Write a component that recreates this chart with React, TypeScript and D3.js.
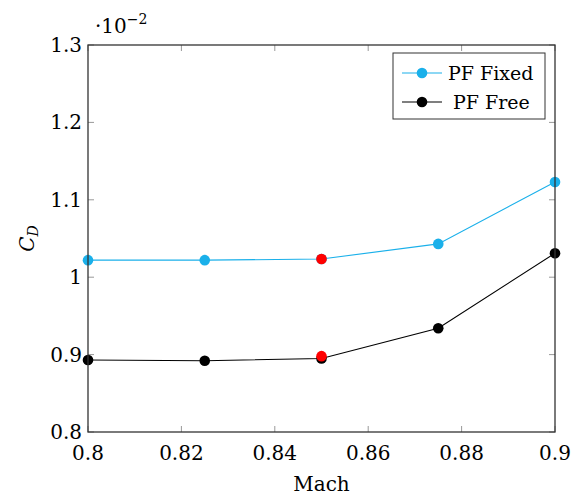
import React from "react";
import * as d3 from "d3";

const mach = [0.8, 0.825, 0.85, 0.875, 0.9];
const pfFixed = [1.022, 1.022, 1.0235, 1.043, 1.123];
const pfFree = [0.893, 0.892, 0.895, 0.934, 1.031];
const highlightMach = [0.85, 0.85];
const highlightCd = [1.0235, 0.898];
const xTicks = [0.8, 0.82, 0.84, 0.86, 0.88, 0.9];
const yTicks = [0.8, 0.9, 1.0, 1.1, 1.2, 1.3];

const W = 571;
const H = 495;
const left = 88;
const right = 555;
const top = 45;
const bottom = 432;
const FONT = "DejaVu Serif";
const BLUE = "#1ab0ea";
const FS = 20;

export default function App() {
  const x = d3.scaleLinear().domain([0.8, 0.9]).range([left, right]);
  const y = d3.scaleLinear().domain([0.8, 1.3]).range([bottom, top]);
  const line = d3
    .line<number>()
    .x((_, i) => x(mach[i]))
    .y((d) => y(d));

  const fmtY = (v: number) => (Math.abs(v - 1) < 1e-9 ? "1" : d3.format(".1f")(v));
  const fmtX = (v: number) => String(+v.toFixed(2));

  return (
    <svg
      width={W}
      height={H}
      style={{ position: "absolute", left: 0, top: 0, background: "#fff", fontFamily: FONT }}
    >
      {/* tick marks, inward on all four sides */}
      {xTicks.map((t) => (
        <g key={"xt" + t} stroke="#999" strokeWidth={1}>
          <line x1={x(t)} x2={x(t)} y1={bottom} y2={bottom - 6} />
          <line x1={x(t)} x2={x(t)} y1={top} y2={top + 6} />
        </g>
      ))}
      {yTicks.map((t) => (
        <g key={"yt" + t} stroke="#999" strokeWidth={1}>
          <line x1={left} x2={left + 6} y1={y(t)} y2={y(t)} />
          <line x1={right} x2={right - 6} y1={y(t)} y2={y(t)} />
        </g>
      ))}

      {/* series lines */}
      <path d={line(pfFixed) ?? ""} fill="none" stroke={BLUE} strokeWidth={1.1} />
      <path d={line(pfFree) ?? ""} fill="none" stroke="#000" strokeWidth={1.1} />

      {/* markers */}
      {pfFixed.map((v, i) => (
        <circle key={"f" + i} cx={x(mach[i])} cy={y(v)} r={5.3} fill={BLUE} />
      ))}
      {pfFree.map((v, i) => (
        <circle key={"r" + i} cx={x(mach[i])} cy={y(v)} r={5.3} fill="#000" />
      ))}
      {highlightCd.map((v, i) => (
        <circle key={"h" + i} cx={x(highlightMach[i])} cy={y(v)} r={5.3} fill="#ff0000" />
      ))}

      {/* axis frame */}
      <rect
        x={left}
        y={top}
        width={right - left}
        height={bottom - top}
        fill="none"
        stroke="#333"
        strokeWidth={1.3}
      />

      {/* tick labels */}
      {xTicks.map((t) => (
        <text key={"xl" + t} x={x(t)} y={460} fontSize={FS} textAnchor="middle">
          {fmtX(t)}
        </text>
      ))}
      {yTicks.map((t) => (
        <text key={"yl" + t} x={left - 6} y={y(t) + 7} fontSize={FS} textAnchor="end">
          {fmtY(t)}
        </text>
      ))}

      {/* scale multiplier */}
      <text x={95} y={33} fontSize={FS}>
        ·10
        <tspan dy={-9} fontSize={14}>
          −2
        </tspan>
      </text>

      {/* axis titles */}
      <text x={(left + right) / 2} y={491} fontSize={FS} textAnchor="middle">
        Mach
      </text>
      <text
        transform={`translate(34, ${(top + bottom) / 2}) rotate(-90)`}
        fontSize={FS}
        textAnchor="middle"
        fontStyle="italic"
      >
        C
        <tspan dy={4} fontSize={14}>
          D
        </tspan>
      </text>

      {/* legend */}
      <g>
        <rect x={393} y={53} width={152} height={66} fill="#fff" stroke="#333" strokeWidth={1} />
        <line x1={402} x2={442} y1={73} y2={73} stroke={BLUE} strokeWidth={1.1} />
        <circle cx={422} cy={73} r={5.3} fill={BLUE} />
        <text x={448} y={80} fontSize={19}>
          PF Fixed
        </text>
        <line x1={402} x2={442} y1={102} y2={102} stroke="#000" strokeWidth={1.1} />
        <circle cx={422} cy={102} r={5.3} fill="#000" />
        <text x={453} y={109} fontSize={19}>
          PF Free
        </text>
      </g>
    </svg>
  );
}
